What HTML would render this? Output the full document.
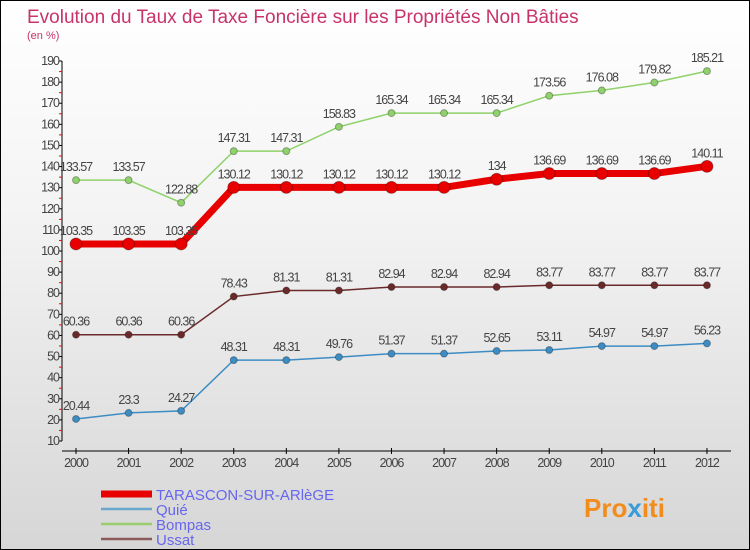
<!DOCTYPE html>
<html><head><meta charset="utf-8"><style>
body{margin:0}
#c{width:748px;height:548px;border:1px solid #000;background:linear-gradient(#fff,#f3f3f3 40%,#d6d6d6);position:relative;font-family:"Liberation Sans",sans-serif;overflow:hidden}
text{font-family:"Liberation Sans",sans-serif}
</style></head><body>
<div id="c">
<svg id="s" width="748" height="548">
<text x="26" y="22" font-size="19" fill="#c8336a">Evolution du Taux de Taxe Foncière sur les Propriétés Non Bâties</text>
<text x="26" y="38" font-size="11" fill="#c8336a">(en %)</text>
<text x="583" y="516" font-size="26" font-weight="bold" fill="#f28c1c">Pro<tspan fill="#3a9bd9">x</tspan>iti</text>
</svg>
</div>
<script>
const years=[2000,2001,2002,2003,2004,2005,2006,2007,2008,2009,2010,2011,2012];
const yTicks=[10,20,30,40,50,60,70,80,90,100,110,120,130,140,150,160,170,180,190];
const tarascon=[103.35,103.35,103.35,130.12,130.12,130.12,130.12,130.12,134,136.69,136.69,136.69,140.11];
const quie=[20.44,23.3,24.27,48.31,48.31,49.76,51.37,51.37,52.65,53.11,54.97,54.97,56.23];
const bompas=[133.57,133.57,122.88,147.31,147.31,158.83,165.34,165.34,165.34,173.56,176.08,179.82,185.21];
const ussat=[60.36,60.36,60.36,78.43,81.31,81.31,82.94,82.94,82.94,83.77,83.77,83.77,83.77];
const seriesNames=["TARASCON-SUR-ARlèGE","Quié","Bompas","Ussat"];
const NS="http://www.w3.org/2000/svg";const s=document.getElementById('s');
const X=i=>75+i*52.58;const Y=v=>440-(v-10)*2.111;
function mk(t,a,p){const e=document.createElementNS(NS,t);for(const k in a)e.setAttribute(k,a[k]);(p||s).appendChild(e);return e;}
const ax=mk('g',{});


mk('line',{x1:61,y1:Y(190),x2:61,y2:Y(10),stroke:'#000'},ax);
mk('line',{x1:61,y1:450,x2:730,y2:450,stroke:'#000'},ax);
yTicks.forEach(v=>{mk('line',{x1:58,x2:61,y1:Y(v),y2:Y(v),stroke:'#000'},ax);
if(v<190)mk('line',{x1:58,x2:61,y1:Y(v+5),y2:Y(v+5),stroke:'#f00'},ax);
const t=mk('text',{x:58,y:Y(v)+4,'font-size':12.5,'text-anchor':'end',fill:'#444','letter-spacing':'-1'},ax);t.textContent=v;

});
years.forEach((y,i)=>{mk('line',{x1:X(i),x2:X(i),y1:447,y2:453,stroke:'#000'},ax);
const t=mk('text',{x:X(i),y:466,'font-size':12.5,'text-anchor':'middle',fill:'#444','letter-spacing':'-1'},ax);t.textContent=y;

});
function series(d,col,w,r,name){const g=mk('g',{});


mk('polyline',{points:d.map((v,i)=>X(i)+','+Y(v)).join(' '),fill:'none',stroke:col,'stroke-width':w},g);
d.forEach((v,i)=>{const c=mk('circle',{cx:X(i),cy:Y(v),r:r,fill:col,stroke:'rgba(0,0,0,0.3)'},g);


const t=mk('text',{x:X(i),y:Y(v)-9,'font-size':12.5,'text-anchor':'middle',fill:'#444','letter-spacing':'-1'},g);t.textContent=v;

});}
series(quie,'#3d8cc4',1.5,3.5,'series-quie');
series(ussat,'#6b2a2a',1.5,3.5,'series-ussat');
series(bompas,'#8fd16a',1.5,3.5,'series-bompas');
series(tarascon,'#e80000',7,6,'series-tarascon');
const cols=['#e80000','#6ba6cc','#9acd6e','#8b5a5a'],ws=[7,2.5,2.5,2.5];
seriesNames.forEach((n,i)=>{const g=mk('g',{});


const yy=493+i*15;mk('line',{x1:100,x2:151,y1:yy,y2:yy,stroke:cols[i],'stroke-width':ws[i]},g);
const t=mk('text',{x:155,y:yy+6,'font-size':15,fill:'#6666ee'},g);t.textContent=n;});
</script>
</body></html>
